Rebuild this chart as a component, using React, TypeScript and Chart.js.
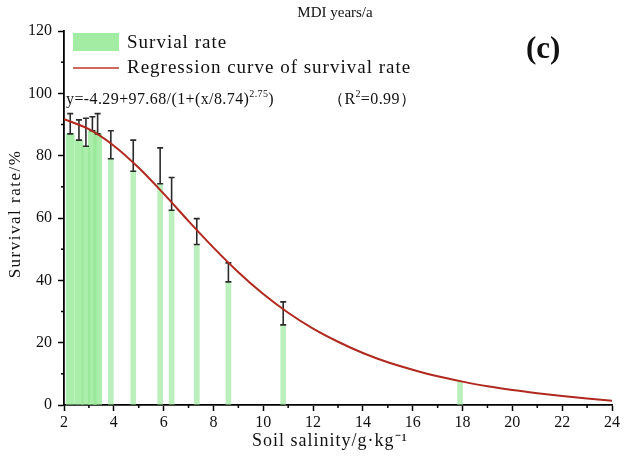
import React, { useEffect, useRef } from "react";
import { Chart, registerables } from "chart.js";

Chart.register(...registerables);

// Survival-rate bars: wide cluster (low salinity) and thin bars
const clusterX = [2.25, 2.6, 2.88, 3.14, 3.35];
const clusterY = [87, 85, 83, 88, 87];
const clusterErr = [6.5, 6.5, 9, 4.5, 6.5];

const thinX = [3.88, 4.78, 5.86, 6.32, 7.33, 8.6, 10.8, 17.9];
const thinY = [79, 75, 71, 62.5, 51.5, 39.5, 25.7, 7.7];
const thinErr = [9, 10, 11.5, 10.5, 8.3, 6.1, 7.4, 0];

// Regression curve
const curveX = [2, 3, 4, 5, 6, 7, 8, 9, 10, 11, 12, 13, 14, 15, 16, 17, 18, 19, 20, 21, 22, 23, 24];
const curveY = [91.7, 88.5, 83.2, 76.1, 67.8, 59.0, 50.5, 42.6, 35.6, 29.6, 24.5, 20.3, 16.7, 13.7, 11.3, 9.2, 7.5, 6.0, 4.8, 3.8, 2.9, 2.1, 1.4];

const xTicks = [2, 4, 6, 8, 10, 12, 14, 16, 18, 20, 22, 24];
const yTicks = [0, 20, 40, 60, 80, 100, 120];

const SERIF = '"Liberation Serif", "Times New Roman", serif';

const pts = (xs: number[], ys: number[]) => xs.map((x, i) => ({ x, y: ys[i] }));

const decorPlugin = {
  id: "decor",
  afterDatasetDraw(chart: any, args: any) {
    if (args.index !== 1) return;
    const ctx = chart.ctx;
    const xs = chart.scales.x;
    const ys = chart.scales.y;
    ctx.save();
    ctx.strokeStyle = "#2b2b2b";
    ctx.lineWidth = 1.6;
    const draw = (X: number[], Y: number[], E: number[]) => {
      X.forEach((x, i) => {
        if (E[i] <= 0) return;
        const px = xs.getPixelForValue(x);
        const y0 = ys.getPixelForValue(Y[i]);
        const y1 = ys.getPixelForValue(Y[i] + E[i]);
        ctx.beginPath();
        ctx.moveTo(px, y0);
        ctx.lineTo(px, y1);
        ctx.moveTo(px - 3, y0);
        ctx.lineTo(px + 3, y0);
        ctx.moveTo(px - 3, y1);
        ctx.lineTo(px + 3, y1);
        ctx.stroke();
      });
    };
    draw(clusterX, clusterY, clusterErr);
    draw(thinX, thinY, thinErr);
    ctx.restore();
  },
  afterDraw(chart: any) {
    const ctx = chart.ctx;
    const xs = chart.scales.x;
    const ys = chart.scales.y;
    const area = chart.chartArea;
    ctx.save();
    // minor ticks
    ctx.strokeStyle = "#000";
    ctx.lineWidth = 1.5;
    for (let v = 3; v < 24; v += 2) {
      const px = xs.getPixelForValue(v);
      ctx.beginPath();
      ctx.moveTo(px, area.bottom);
      ctx.lineTo(px, area.bottom + 3);
      ctx.stroke();
    }
    for (let v = 10; v < 120; v += 20) {
      const py = ys.getPixelForValue(v);
      ctx.beginPath();
      ctx.moveTo(area.left, py);
      ctx.lineTo(area.left - 3, py);
      ctx.stroke();
    }
    // title
    ctx.fillStyle = "#111";
    ctx.textBaseline = "middle";
    ctx.textAlign = "center";
    ctx.font = `15px ${SERIF}`;
    ctx.fillText("MDI years/a", 335, 13);
    // axis titles
    ctx.font = `18px ${SERIF}`;
    (ctx as any).letterSpacing = "1px";
    ctx.fillText("Soil salinity/g·kg⁻¹", 330, 441);
    ctx.save();
    ctx.translate(16, 214);
    ctx.rotate(-Math.PI / 2);
    ctx.font = `17px ${SERIF}`;
    (ctx as any).letterSpacing = "1.5px";
    ctx.fillText("Survival rate/%", 0, 0);
    ctx.restore();
    // legend
    ctx.textAlign = "left";
    ctx.fillStyle = "#a3eca3";
    ctx.fillRect(73, 33, 46, 18);
    ctx.strokeStyle = "#c0392b";
    ctx.lineWidth = 1.5;
    ctx.beginPath();
    ctx.moveTo(73, 68);
    ctx.lineTo(119, 68);
    ctx.stroke();
    ctx.fillStyle = "#111";
    ctx.font = `19px ${SERIF}`;
    (ctx as any).letterSpacing = "1px";
    ctx.fillText("Survial rate", 127, 43);
    ctx.fillText("Regression curve of survival rate", 127, 68);
    // equation
    (ctx as any).letterSpacing = "0.4px";
    ctx.font = `16px ${SERIF}`;
    let x = 66;
    const eqY = 100;
    const main = "y=-4.29+97.68/(1+(x/8.74)";
    ctx.fillText(main, x, eqY);
    x += ctx.measureText(main).width;
    ctx.font = `10px ${SERIF}`;
    ctx.fillText("2.75", x, eqY - 6);
    x += ctx.measureText("2.75").width;
    ctx.font = `16px ${SERIF}`;
    ctx.fillText(")", x, eqY);
    let rx = 328;
    ctx.fillText("（R", rx, eqY);
    rx += ctx.measureText("（R").width;
    ctx.font = `10px ${SERIF}`;
    ctx.fillText("2", rx, eqY - 6);
    rx += ctx.measureText("2").width;
    ctx.font = `16px ${SERIF}`;
    ctx.fillText("=0.99）", rx, eqY);
    // panel label
    (ctx as any).letterSpacing = "0px";
    ctx.font = `bold 31px ${SERIF}`;
    ctx.fillText("(c)", 526, 50);
    ctx.restore();
  },
};

export default function App() {
  const ref = useRef<HTMLCanvasElement | null>(null);
  useEffect(() => {
    if (!ref.current) return;
    const chart = new Chart(ref.current, {
      type: "bar",
      data: {
        datasets: [
          {
            type: "line",
            label: "Regression curve of survival rate",
            data: pts(curveX, curveY),
            borderColor: "#b0281e",
            borderWidth: 2,
            pointRadius: 0,
            cubicInterpolationMode: "monotone",
            fill: false,
          } as any,
          {
            type: "bar",
            label: "Survial rate",
            data: pts(thinX, thinY),
            backgroundColor: "rgba(150, 230, 150, 0.65)",
            barThickness: 5,
            grouped: false,
          } as any,
          {
            type: "bar",
            label: "Survial rate cluster",
            data: pts(clusterX, clusterY),
            backgroundColor: "rgba(150, 232, 150, 0.8)",
            barThickness: 8,
            grouped: false,
          } as any,
        ],
      },
      options: {
        responsive: false,
        animation: false,
        layout: { padding: { top: 31, right: 28, left: 0, bottom: 0 } },
        plugins: { legend: { display: false }, tooltip: { enabled: false }, title: { display: false } },
        scales: {
          x: {
            type: "linear",
            min: 2,
            max: 24,
            offset: false,
            afterFit: (s: any) => { s.height = 57; },
            afterBuildTicks: (s: any) => { s.ticks = xTicks.map((v) => ({ value: v })); },
            grid: { offset: false, drawOnChartArea: false, drawTicks: true, tickLength: 6, tickColor: "#000", tickWidth: 1.5 },
            border: { color: "#000", width: 1.8 },
            ticks: { color: "#111", font: { family: SERIF, size: 16 }, padding: 2, maxRotation: 0, autoSkip: false },
          },
          y: {
            type: "linear",
            min: 0,
            max: 120,
            afterFit: (s: any) => { s.width = 64; },
            afterBuildTicks: (s: any) => { s.ticks = yTicks.map((v) => ({ value: v })); },
            grid: { drawOnChartArea: false, drawTicks: true, tickLength: 6, tickColor: "#000", tickWidth: 1.5 },
            border: { color: "#000", width: 1.8 },
            ticks: { color: "#111", font: { family: SERIF, size: 16 }, padding: 6 },
          },
        },
      },
      plugins: [decorPlugin],
    } as any);
    return () => chart.destroy();
  }, []);
  return (
    <div style={{ position: "fixed", left: 0, top: 0, width: 640, height: 462, background: "#fff" }}>
      <canvas ref={ref} width={640} height={462} style={{ width: 640, height: 462 }} />
    </div>
  );
}
